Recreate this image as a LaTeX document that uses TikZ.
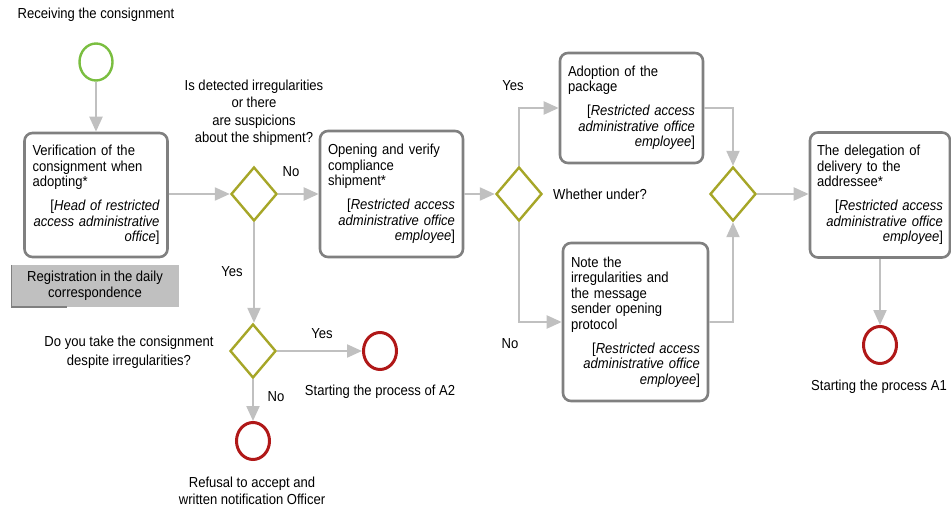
\documentclass[tikz,border=0pt]{standalone}
\usepackage{fontspec}
\setmainfont[FakeStretch=0.9]{Liberation Sans}
\usetikzlibrary{shapes.geometric,arrows.meta}

\definecolor{boxgray}{RGB}{128,128,128}
\definecolor{flowgray}{RGB}{192,192,192}
\definecolor{gateolive}{RGB}{166,166,40}
\definecolor{startgreen}{RGB}{122,190,64}
\definecolor{endred}{RGB}{176,24,24}
\definecolor{regfill}{RGB}{192,192,192}

\begin{document}
\begin{tikzpicture}[x=1pt,y=-1pt,
  font=\fontsize{14.5}{15.5}\selectfont,
  task/.style={draw=boxgray, line width=2.6pt, rounded corners=8pt, fill=white,
    inner xsep=8pt, inner ysep=3pt, text width=127pt},
  gate/.style={diamond, draw=gateolive, line width=2.4pt, fill=white,
    minimum width=46pt, minimum height=54pt, inner sep=0pt},
  startev/.style={ellipse, draw=startgreen, line width=2.4pt, fill=white,
    minimum width=33pt, minimum height=37pt, inner sep=0pt},
  endev/.style={ellipse, draw=endred, line width=3pt, fill=white,
    minimum width=33pt, minimum height=37pt, inner sep=0pt},
  flow/.style={draw=flowgray, line width=2.2pt,
    -{Triangle[length=15pt,width=13pt]}},
  lbl/.style={inner sep=0pt, align=center}
]
\useasboundingbox (0,0) rectangle (951,508);

% events
\node[lbl] (lstart) at (96,15) {Receiving the consignment};
\node[startev] (start) at (96,62) {};

% tasks
\node[task, minimum height=124pt] (verify) at (96,195)
  {{\raggedright Verification of the\\consignment when\\adopting*\par}\vspace{8.5pt}%
   {\raggedleft[\textit{Head of restricted\\access administrative\\office}]\par}};

\node[task, minimum height=126pt] (open) at (391.5,194)
  {{\raggedright Opening and verify\\compliance\\shipment*\par}\vspace{8.5pt}%
   {\raggedleft[\textit{Restricted access\\administrative office\\employee}]\par}};

\node[task, minimum height=110pt] (adopt) at (631.5,108)
  {{\raggedright Adoption of the\\package\par}\vspace{8.5pt}%
   {\raggedleft[\textit{Restricted access\\administrative office\\employee}]\par}};

\node[task, minimum height=158pt, text width=129pt] (note) at (635.5,322)
  {{\raggedright Note the\\irregularities and\\the message\\sender opening\\protocol\par}\vspace{8.5pt}%
   {\raggedleft[\textit{Restricted access\\administrative office\\employee}]\par}};

\node[task, minimum height=125pt, text width=126pt, inner xsep=7pt] (deleg) at (880,195)
  {{\raggedright The delegation of\\delivery to the\\addressee*\par}\vspace{8.5pt}%
   {\raggedleft[\textit{Restricted access\\administrative office\\employee}]\par}};

% registration note
\node[fill=regfill, minimum width=168pt, minimum height=42pt, inner sep=0pt,
  align=center] (reg) at (95,286)
  {Registration in the daily\\correspondence};
\draw[boxgray, line width=1.6pt] ([xshift=0.8pt]reg.north west) -- ([xshift=0.8pt]reg.south west)
  -- ([xshift=56pt]reg.south west);

% gateways
\node[gate] (g1) at (254,194) {};
\node[gate] (g2) at (519,194) {};
\node[gate] (g3) at (253,351) {};
\node[gate] (g4) at (733,194) {};

% end events
\node[endev] (endA2) at (380,351) {};
\node[endev] (refuse) at (253,441) {};
\node[endev] (endA1) at (880,345) {};

% labels
\node[lbl, font=\fontsize{14.5}{17.5}\selectfont] (q1) at (254,113)
  {Is detected irregularities\\or there\\are suspicions\\about the shipment?};
\node[lbl, font=\fontsize{14.5}{19}\selectfont] (q3) at (129,352)
  {Do you take the consignment\\despite irregularities?};
\node[lbl, anchor=west] (q2) at (553,194) {Whether under?};
\node[lbl] (lA2) at (380,392) {Starting the process of A2};
\node[lbl, font=\fontsize{14.5}{17}\selectfont] (lref) at (252,491)
  {Refusal to accept and\\written notification Officer};
\node[lbl] (lA1) at (879,387) {Starting the process A1};

\node[lbl] (n1) at (291,172) {No};
\node[lbl] (y1) at (232,272) {Yes};
\node[lbl] (y3) at (322,334) {Yes};
\node[lbl] (n3) at (276,397) {No};
\node[lbl] (y2) at (513,86) {Yes};
\node[lbl] (n2) at (510,344) {No};

% sequence flows
\draw[flow] (start) -- (verify);
\draw[flow] (verify.east |- g1) -- (g1.west);
\draw[flow] (g1.east) -- (open.west |- g1);
\draw[flow] (g1.south) -- (g3.north -| g1);
\draw[flow] (g3.east) -- (endA2.west);
\draw[flow] (g3.south) -- (refuse.north);
\draw[flow] (open.east |- g2) -- (g2.west);
\draw[flow] (g2.north) |- (adopt.west);
\draw[flow] (g2.south) |- (note.west);
\draw[flow] (adopt.east) -| (g4.north);
\draw[flow] (note.east) -| (g4.south);
\draw[flow] (g4.east) -- (deleg.west |- g4);
\draw[flow] (deleg.south) -- (endA1.north);
\end{tikzpicture}
\end{document}
